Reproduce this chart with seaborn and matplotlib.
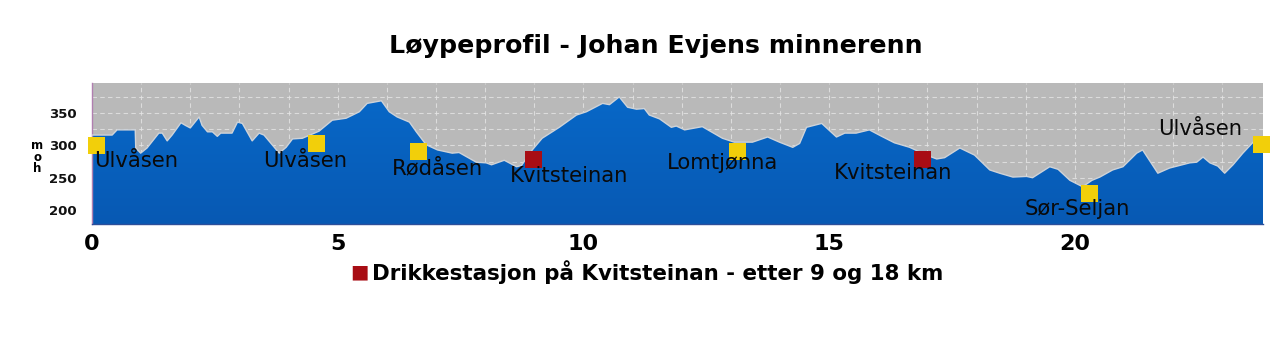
import numpy as np
import pandas as pd
import matplotlib
matplotlib.use("Agg")
import matplotlib.pyplot as plt
import seaborn as sns
from matplotlib.colors import LinearSegmentedColormap
from matplotlib.ticker import MultipleLocator

# =====================================================
# DATA
# =====================================================

km = [
    0, 0.41, 0.51, 0.88, 0.89, 0.99, 1.12, 1.36, 1.43, 1.53,
    1.63, 1.81, 1.9, 2.0, 2.18, 2.24, 2.35, 2.45, 2.55, 2.62,
    2.85, 2.96, 3.06, 3.26, 3.4, 3.5, 3.81, 3.95, 4.08, 4.28,
    4.62, 4.89, 5.17, 5.44, 5.6, 5.89, 6.05, 6.21, 6.46, 6.6,
    6.8, 7.03, 7.33, 7.47, 7.82, 8.02, 8.13, 8.39, 8.64, 8.74,
    8.96, 9.16, 9.51, 9.86, 10.06, 10.39, 10.53, 10.73, 10.9, 11.08,
    11.24, 11.34, 11.55, 11.79, 11.89, 12.06, 12.42, 12.83, 13.07, 13.44,
    13.75, 13.99, 14.26, 14.4, 14.54, 14.85, 15.15, 15.32, 15.55, 15.82,
    16.07, 16.33, 16.64, 16.98, 17.19, 17.35, 17.66, 17.96, 18.27, 18.47,
    18.74, 19.02, 19.14, 19.49, 19.66, 19.9, 20.16, 20.35, 20.51, 20.77,
    20.98, 21.26, 21.38, 21.69, 21.93, 22.34, 22.48, 22.61, 22.75, 22.91,
    23.05, 23.22, 23.42, 23.63, 23.83,
]

elevation = [
    316, 316, 324, 324, 296, 288, 296, 319, 319, 307,
    316, 335, 331, 327, 344, 331, 321, 321, 314, 319,
    319, 336, 334, 307, 319, 316, 288, 297, 310, 311,
    322, 339, 342, 352, 365, 369, 352, 344, 336, 321,
    301, 293, 288, 289, 274, 273, 270, 277, 267, 269,
    293, 311, 328, 347, 352, 365, 363, 375, 359, 356,
    357, 347, 341, 328, 330, 324, 329, 311, 305, 305,
    313, 305, 297, 303, 328, 334, 313, 319, 319, 324,
    314, 304, 297, 285, 279, 281, 296, 285, 262, 257,
    251, 252, 250, 267, 263, 246, 236, 246, 251, 262,
    267, 288, 293, 257, 265, 273, 274, 282, 273, 268,
    257, 270, 288, 305, 311,
]

# points along the course
place_names = ["Ulvåsen", "Ulvåsen", "Rødåsen", "Kvitsteinan",
               "Lomtjønna", "Kvitsteinan", "Sør-Seljan", "Ulvåsen"]
place_km = [0.1, 4.56, 6.64, 8.98, 13.14, 16.9, 20.3, 23.8]
place_elev = [300, 303, 290, 278, 291, 278, 225, 302]
place_type = ["punkt", "punkt", "punkt", "drikke",
              "punkt", "drikke", "punkt", "punkt"]

# label anchors (left edge, vertical centre)
label_km = [0.04, 3.48, 6.1, 8.5, 11.7, 15.1, 18.98, 21.7]
label_elev = [276, 276, 264, 252, 273, 258, 201, 326]

x_tick_labels = [0, 5, 10, 15, 20]
y_tick_labels = [200, 250, 300, 350]

profile = pd.DataFrame({"km": km, "moh": elevation})
places = pd.DataFrame({"km": place_km, "moh": place_elev, "type": place_type})

# =====================================================
# FIGURE
# =====================================================

sns.set_style("white")
plt.rcParams["font.family"] = ["DejaVu Sans"]
plt.rcParams["text.color"] = "black"

fig = plt.figure(figsize=(12.8, 3.59), dpi=100)
ax = fig.add_axes([92 / 1280, 135 / 359, 1171 / 1280, 141 / 359])

x_max = 23.83
y_min, y_max = 178.4, 396.5

ax.set_xlim(0, x_max)
ax.set_ylim(y_min, y_max)

# gray sky
ax.set_facecolor("#b9b9b9")

# gradient blue fill clipped to the profile
fill = ax.fill_between(profile["km"], profile["moh"], y_min,
                       color="none", lw=0)
blue = LinearSegmentedColormap.from_list("blue", ["#0759b3", "#0868c8"])
grad = np.linspace(0, 1, 256).reshape(-1, 1)
img = ax.imshow(grad, cmap=blue, aspect="auto", origin="lower",
                extent=[0, x_max, y_min, 380], zorder=2)
img.set_clip_path(fill.get_paths()[0], transform=ax.transData)

sns.lineplot(data=profile, x="km", y="moh", ax=ax, color="#cfd3d8",
             lw=1.0, zorder=3, legend=False)

# grid
ax.xaxis.set_major_locator(MultipleLocator(1))
ax.yaxis.set_major_locator(MultipleLocator(25))
ax.grid(True, color="#e6e6e6", ls=(0, (4, 3)), lw=0.8, alpha=0.8, zorder=1)
ax.set_axisbelow(True)

# markers
sns.scatterplot(data=places, x="km", y="moh", hue="type",
                palette={"punkt": "#f2cf0a", "drikke": "#a80d14"},
                marker="s", s=150, edgecolor="none", ax=ax,
                legend=False, zorder=5, clip_on=False)

for name, lx, ly in zip(place_names, label_km, label_elev):
    ax.text(lx, ly, name, fontsize=15.2, color="#0a0a0a",
            ha="left", va="center", zorder=6)

# ticks
ax.set_xticks(np.arange(0, 24, 1))
ax.set_xticklabels([str(v) if v in x_tick_labels else ""
                    for v in range(0, 24)])
ax.set_yticks(np.arange(200, 400, 25))
ax.set_yticklabels([str(v) if v in y_tick_labels else ""
                    for v in range(200, 400, 25)])
ax.tick_params(axis="x", direction="out", length=3, width=1,
               color="#334466", labelsize=16, pad=4, labelcolor="black")
ax.tick_params(axis="y", direction="out", length=3, width=1,
               color="#333333", labelsize=9.5, pad=8, labelcolor="#111111")
for lab in ax.get_xticklabels() + ax.get_yticklabels():
    lab.set_fontweight("bold")

ax.set_xlabel("")
ax.set_ylabel("")

for side in ["top", "right"]:
    ax.spines[side].set_visible(False)
ax.spines["left"].set_color("#b07fb0")
ax.spines["left"].set_linewidth(1)
ax.spines["bottom"].set_color("#2d4f9a")
ax.spines["bottom"].set_linewidth(1)

# y label stacked
fig.text(37 / 1280, 1 - 157 / 359, "m\no\nh", fontsize=8.5, fontweight="bold",
         ha="center", va="center", linespacing=0.85, color="black")

# title
fig.text(656 / 1280, 1 - 46 / 359, "Løypeprofil - Johan Evjens minnerenn",
         fontsize=18.2, fontweight="bold", ha="center", va="center",
         color="black")

# legend note
fig.text(359 / 1280, 1 - 272 / 359, "■", fontsize=14, color="#a80d14",
         ha="center", va="center")
fig.text(372 / 1280, 1 - 272 / 359,
         "Drikkestasjon på Kvitsteinan - etter 9 og 18 km",
         fontsize=15.4, fontweight="bold", ha="left", va="center",
         color="black")

fig.savefig("out.png", dpi=100, facecolor="white")
plt.close(fig)
